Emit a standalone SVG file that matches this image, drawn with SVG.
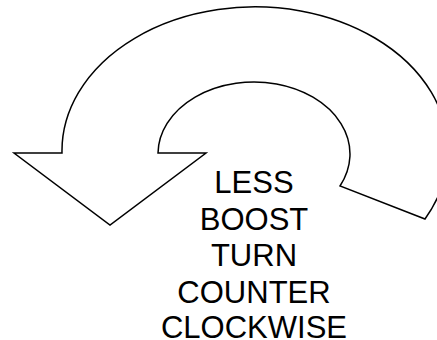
<svg xmlns="http://www.w3.org/2000/svg" width="437" height="340" viewBox="0 0 437 340">
<style>
.shape{fill:#ffffff;stroke:#000000;stroke-width:1.5;stroke-linejoin:miter}
.lbl{font-family:"Liberation Sans",Arial,sans-serif;font-size:31px;fill:#000000;text-anchor:middle}
</style>
<rect width="437" height="340" fill="#ffffff"/>
<g id="arrow">
<path class="shape" d="M 62,153 A 193,144 0 1 1 425,219 L 340,186 A 96,72 0 1 0 158,153 L 206,153 L 110,225 L 14,153 Z"/>
</g>
<g id="label">
<text class="lbl" x="254" y="193">LESS</text>
<text class="lbl" x="254" y="229.5">BOOST</text>
<text class="lbl" x="254" y="266">TURN</text>
<text class="lbl" x="254" y="302.5">COUNTER</text>
<text class="lbl" x="254" y="338">CLOCKWISE</text>
</g>
</svg>
